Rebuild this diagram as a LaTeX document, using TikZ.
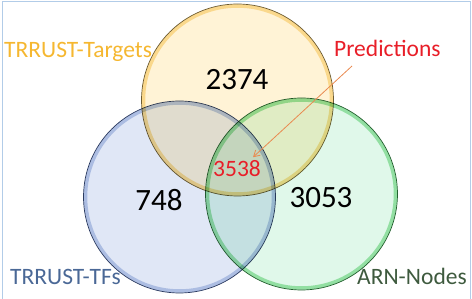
\documentclass[tikz,border=0pt]{standalone}
\usepackage{fontspec}
\setmainfont{Carlito}
\usetikzlibrary{arrows.meta,positioning}
\definecolor{frameBlue}{RGB}{178,204,232}
\definecolor{targetFill}{RGB}{255,243,214}
\definecolor{targetGlow}{RGB}{246,200,80}
\definecolor{targetEdge}{RGB}{110,96,56}
\definecolor{tfFill}{RGB}{224,231,246}
\definecolor{tfGlow}{RGB}{140,165,215}
\definecolor{tfEdge}{RGB}{48,64,100}
\definecolor{arnFill}{RGB}{224,248,234}
\definecolor{arnGlow}{RGB}{80,205,100}
\definecolor{arnEdge}{RGB}{40,100,52}
\definecolor{targetText}{RGB}{245,183,48}
\definecolor{tfText}{RGB}{74,104,150}
\definecolor{arnText}{RGB}{62,90,62}
\definecolor{predRed}{RGB}{232,30,40}
\definecolor{arrowOrange}{RGB}{233,138,80}

\begin{document}
\begin{tikzpicture}[x=1pt,y=-1pt,
  setcirc/.style={circle,minimum size=192pt,inner sep=0pt},
  glow/.style={line width=3.5pt,opacity=0.5},
  edge/.style={line width=0.7pt},
  count/.style={font=\fontsize{31}{31}\selectfont,anchor=base,inner sep=0pt},
  setlabel/.style={font=\fontsize{23.5}{23.5}\selectfont,anchor=base west,inner sep=0pt},
  pointer/.style={-{Straight Barb[length=6pt,width=7pt]},draw=arrowOrange,line width=0.8pt}
]
  \useasboundingbox (0,0) rectangle (472,299);
  \draw[frameBlue,line width=1pt] (2,299) -- (2,2) -- (470,2) -- (470,299);
  % the three sets
  \begin{scope}[blend group=multiply]
    \node[setcirc,fill=targetFill] (targets) at (237.5,100) {};
    \node[setcirc,fill=tfFill]     (tfs)     at (179.5,197) {};
    \node[setcirc,fill=arnFill]    (arn)     at (301.5,194) {};
    \draw[glow,targetGlow] (targets.center) circle[radius=94];
    \draw[glow,tfGlow]     (tfs.center)     circle[radius=94];
    \draw[glow,arnGlow]    (arn.center)     circle[radius=94];
    \draw[edge,targetEdge] (targets.center) circle[radius=96];
    \draw[edge,tfEdge]     (tfs.center)     circle[radius=96];
    \draw[edge,arnEdge]    (arn.center)     circle[radius=96];
  \end{scope}
  % counts
  \node[count] (onlytargets) at (237,90)  {2374};
  \node[count] (onlytfs)     at (159,211) {748};
  \node[count] (onlyarn)     at (321,208) {3053};
  \node[count,font=\fontsize{23.5}{23.5}\selectfont,text=predRed] (common) at (237,176.5) {3538};
  % labels
  \node[setlabel,text=targetText] (targetlabel) at (4,57.5)  {TRRUST-Targets};
  \node[setlabel,text=predRed]    (pred)        at (334,57)  {Predictions};
  \node[setlabel,text=tfText]     (tflabel)     at (10,285)  {TRRUST-TFs};
  \node[setlabel,text=arnText]    (arnlabel)    at (357,285) {ARN-Nodes};
  \draw[pointer] ([shift={(18,9)}]pred.base west) -- ([shift={(-8,-3)}]common.north east);
\end{tikzpicture}
\end{document}
